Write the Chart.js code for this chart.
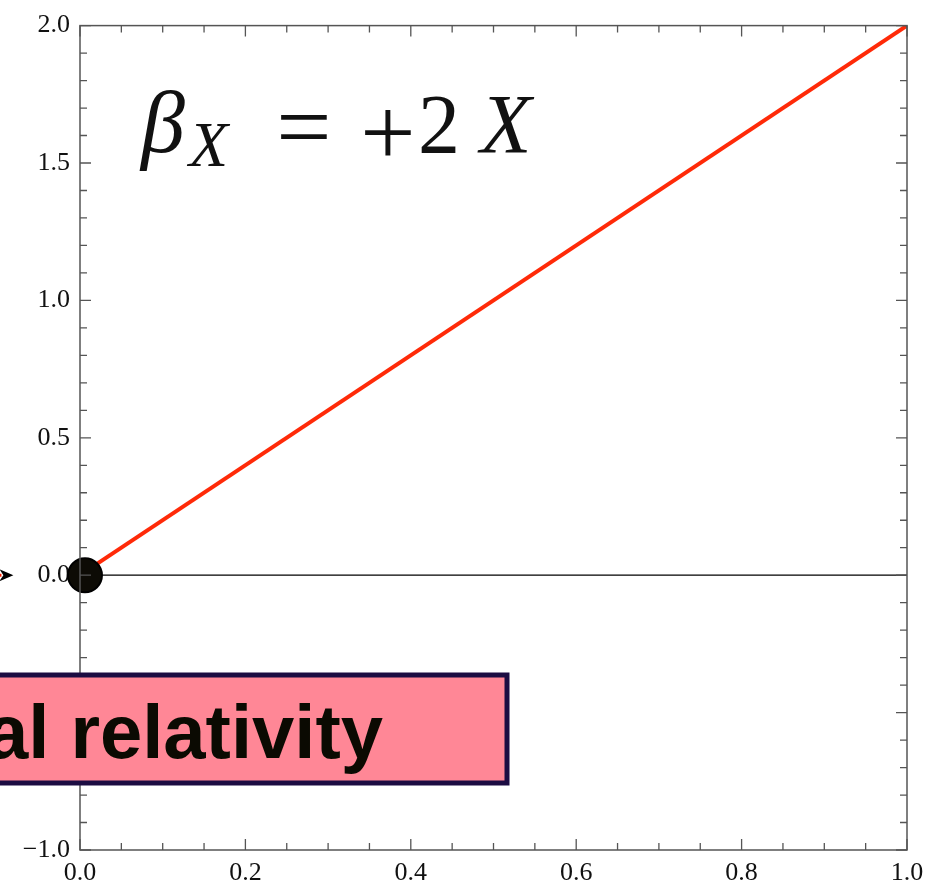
<!DOCTYPE html>
<html>
<head>
<meta charset="utf-8">
<script src="https://cdn.jsdelivr.net/npm/chart.js@4.4.0/dist/chart.umd.min.js"></script>
<style>
  html, body { margin: 0; padding: 0; background: #fff; }
  #wrap { width: 945px; height: 886px; }
</style>
</head>
<body>
<div id="wrap"><canvas id="plot" width="945" height="886"></canvas></div>
<script>
// beta function, linear in X
const lineX = [0, 1];
const lineY = [0, 2];
// horizontal zero reference
const zeroX = [0, 1];
const zeroY = [0, 0];
// fixed point marker
const dotX = [0.006];
const dotY = [0];
// arrow tip coming in from the left
const arrowX = [-0.089];
const arrowY = [0];
const shaftX = [-0.12, -0.095];
const shaftY = [0, 0];

const xTickValues = [0, 0.2, 0.4, 0.6, 0.8, 1.0];
const yTickValues = [-1.0, -0.5, 0.0, 0.5, 1.0, 1.5, 2.0];
const xMinorStep = 0.05;
const yMinorStep = 0.1;

const pts = (xs, ys) => xs.map((x, i) => ({ x, y: ys[i] }));
const fmt = v => v.toFixed(1).replace('-', '\u2212');

// inward ticks on all four sides plus the frame
const frameTicks = {
  id: 'frameTicks',
  afterDraw(chart) {
    const { ctx, chartArea: a, scales: { x, y } } = chart;
    ctx.save();
    ctx.strokeStyle = '#555';
    ctx.lineWidth = 1.5;
    ctx.strokeRect(a.left, a.top, a.right - a.left, a.bottom - a.top);
    ctx.lineWidth = 1.3;
    ctx.beginPath();
    for (let i = 0; i <= Math.round((x.max - x.min) / xMinorStep); i++) {
      const v = x.min + i * xMinorStep;
      const px = x.getPixelForValue(v);
      const major = Math.abs(v / 0.2 - Math.round(v / 0.2)) < 1e-6;
      const len = major ? 11 : 7;
      ctx.moveTo(px, a.bottom); ctx.lineTo(px, a.bottom - len);
      ctx.moveTo(px, a.top); ctx.lineTo(px, a.top + len);
    }
    for (let i = 0; i <= Math.round((y.max - y.min) / yMinorStep); i++) {
      const v = y.min + i * yMinorStep;
      const py = y.getPixelForValue(v);
      const major = Math.abs(v / 0.5 - Math.round(v / 0.5)) < 1e-6;
      const len = major ? 11 : 7;
      ctx.moveTo(a.left, py); ctx.lineTo(a.left + len, py);
      ctx.moveTo(a.right, py); ctx.lineTo(a.right - len, py);
    }
    ctx.stroke();

    // arrowhead (sits outside the plot area, so drawn here)
    const ax = x.getPixelForValue(arrowX[0]);
    const ay = y.getPixelForValue(arrowY[0]);
    ctx.fillStyle = '#000';
    ctx.beginPath();
    ctx.moveTo(ax + 7, ay);
    ctx.lineTo(ax - 7, ay - 6);
    ctx.lineTo(ax - 3, ay);
    ctx.lineTo(ax - 7, ay + 6);
    ctx.closePath();
    ctx.fill();
    ctx.restore();
  }
};

// formula and the label box
const notes = {
  id: 'notes',
  afterDraw(chart) {
    const { ctx } = chart;
    ctx.save();
    ctx.fillStyle = '#111';
    ctx.textBaseline = 'alphabetic';
    ctx.textAlign = 'left';
    ctx.font = 'italic 88px "Liberation Serif"';
    ctx.fillText('\u03B2', 141, 152);
    ctx.font = 'italic 64px "Liberation Serif"';
    ctx.fillText('X', 189, 166);
    ctx.textAlign = 'center';
    ctx.font = '98px "Liberation Serif"';
    ctx.fillText('=', 304, 159);
    ctx.fillText('+', 388, 165);
    ctx.font = '84px "Liberation Serif"';
    ctx.fillText('2', 439, 153);
    ctx.font = 'italic 84px "Liberation Serif"';
    ctx.fillText('X', 506, 153);

    ctx.fillStyle = '#ff8796';
    ctx.fillRect(-10, 675, 517, 108);
    ctx.strokeStyle = '#1c0c42';
    ctx.lineWidth = 5;
    ctx.strokeRect(-10, 675, 517, 108);
    ctx.fillStyle = '#0b0a02';
    ctx.textAlign = 'right';
    ctx.font = 'bold 76px "Liberation Sans"';
    ctx.fillText('al relativity', 383, 758);
    ctx.restore();
  }
};

new Chart(document.getElementById('plot'), {
  type: 'scatter',
  data: {
    datasets: [
      { type: 'scatter', data: pts(dotX, dotY), order: 0, clip: false,
        pointRadius: 17, pointHoverRadius: 17, pointBackgroundColor: '#0d0b05',
        pointBorderColor: '#000', pointBorderWidth: 2 },
      { type: 'line', data: pts(shaftX, shaftY), order: 1, clip: false,
        borderColor: '#ff2200', borderWidth: 3, pointRadius: 0 },
      { type: 'line', data: pts(lineX, lineY), order: 1,
        borderColor: '#ff2a08', borderWidth: 4, pointRadius: 0, tension: 0 },
      { type: 'line', data: pts(zeroX, zeroY), order: 2,
        borderColor: '#000', borderWidth: 1.2, pointRadius: 0 }
    ]
  },
  options: {
    responsive: false,
    animation: false,
    events: [],
    layout: { padding: { top: 23, right: 38, left: 0, bottom: 0 } },
    plugins: { legend: { display: false }, tooltip: { enabled: false } },
    scales: {
      x: {
        type: 'linear', min: 0, max: 1,
        afterBuildTicks: s => { s.ticks = xTickValues.map(v => ({ value: v })); },
        afterFit: s => { s.height = 36; },
        grid: { display: false, drawTicks: false },
        border: { display: false },
        ticks: { callback: v => fmt(v), padding: 8, color: '#111', maxRotation: 0,
          font: { family: 'Liberation Serif', size: 26 } }
      },
      y: {
        type: 'linear', min: -1, max: 2,
        afterBuildTicks: s => { s.ticks = yTickValues.map(v => ({ value: v })); },
        afterFit: s => { s.width = 80; },
        grid: { display: false, drawTicks: false },
        border: { display: false },
        ticks: { callback: v => fmt(v), padding: 10, color: '#111',
          font: { family: 'Liberation Serif', size: 26 } }
      }
    }
  },
  plugins: [frameTicks, notes]
});
</script>
</body>
</html>
